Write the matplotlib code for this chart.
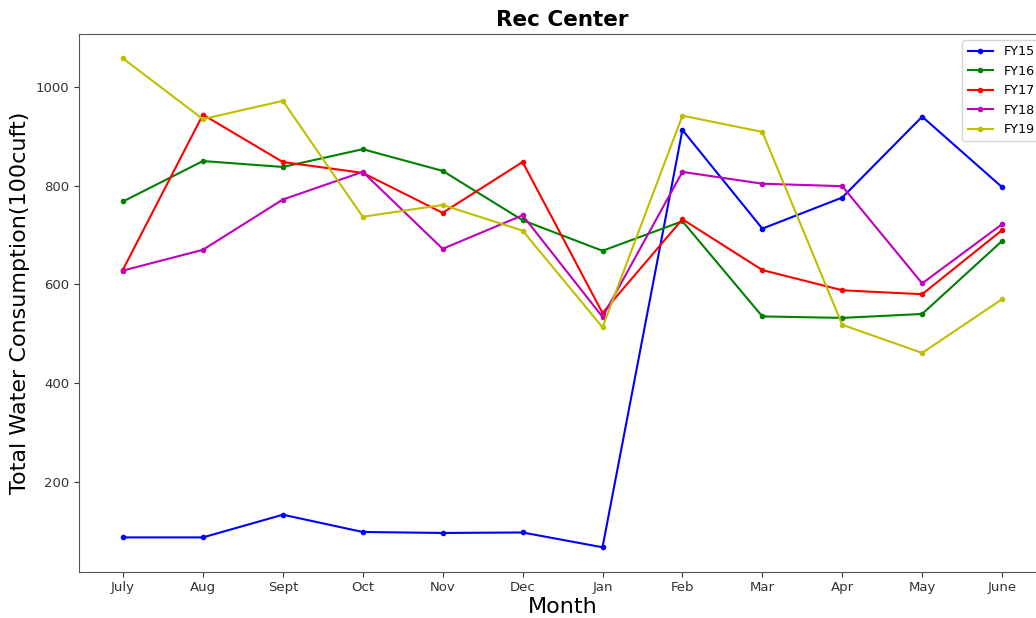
from matplotlib import pyplot as plt

months = ['July', 'Aug', 'Sept', 'Oct', 'Nov', 'Dec', 'Jan', 'Feb', 'Mar', 'Apr', 'May', 'June']

fy15 = [87, 87, 133, 98, 96, 97, 67, 913, 713, 776, 940, 797]
fy16 = [768, 850, 838, 874, 830, 730, 668, 728, 535, 532, 540, 688]
fy17 = [630, 944, 848, 826, 745, 848, 542, 732, 629, 588, 580, 710]
fy18 = [628, 670, 772, 828, 672, 740, 534, 828, 804, 799, 602, 722]
fy19 = [1058, 935, 972, 737, 761, 709, 513, 942, 909, 518, 461, 570]

series = [('FY15', fy15, 'b'), ('FY16', fy16, 'g'), ('FY17', fy17, 'r'),
          ('FY18', fy18, 'm'), ('FY19', fy19, 'y')]

fig = plt.figure(figsize=(10.36, 6.18), dpi=100)
ax = fig.add_axes([0.0763, 0.0749, 0.9334, 0.8701])

for name, vals, c in series:
    ax.plot(months, vals, color=c, marker='.', markersize=6, linewidth=1.5, label=name)

ax.set_title('Rec Center', fontsize=15.5, fontweight='bold')
ax.set_xlabel('Month', fontsize=16, labelpad=2)
ax.set_ylabel('Total Water Consumption(100cuft)', fontsize=16)
ax.tick_params(labelsize=9.5, colors='#333333')
for s in ax.spines.values():
    s.set_color('#555555')
ax.set_yticks([200, 400, 600, 800, 1000])
ax.legend(loc='upper right', fontsize=9.2)

plt.savefig('out.png', dpi=100)
